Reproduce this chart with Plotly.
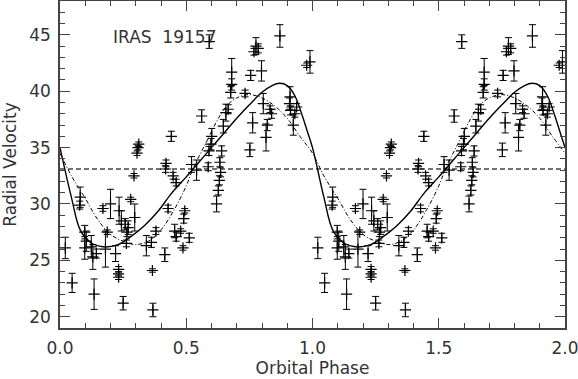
import numpy as np
import plotly.graph_objects as go

# ---- observed radial velocities (one orbital cycle, phase 0..1) ----
obs_phase = [0.021, 0.048, 0.080, 0.078, 0.098, 0.104, 0.098, 0.124, 0.130, 0.144,
             0.135, 0.170, 0.187, 0.180, 0.200, 0.220, 0.232, 0.232, 0.232, 0.234,
             0.243, 0.250, 0.258, 0.270, 0.265, 0.263, 0.280, 0.296, 0.293, 0.305,
             0.309, 0.312, 0.342, 0.362, 0.366, 0.368, 0.380, 0.415, 0.420, 0.418,
             0.428, 0.441, 0.448, 0.454, 0.460, 0.460, 0.478, 0.487, 0.494, 0.490,
             0.512, 0.521, 0.541, 0.561, 0.587, 0.590, 0.591, 0.601, 0.598, 0.633,
             0.636, 0.631, 0.627, 0.620, 0.640, 0.647, 0.657, 0.666, 0.680, 0.680,
             0.676, 0.733, 0.752, 0.755, 0.763, 0.768, 0.776, 0.785, 0.798, 0.805,
             0.816, 0.821, 0.832, 0.838, 0.871, 0.911, 0.909, 0.913, 0.924, 0.930,
             0.937, 0.977, 0.990]
obs_velocity = [26.1, 23.0, 30.6, 29.9, 27.5, 26.7, 26.1, 26.2, 25.3, 25.6,
                22.0, 29.6, 27.5, 26.0, 30.0, 25.6, 24.2, 23.8, 23.5, 29.4,
                28.5, 21.2, 28.2, 27.9, 27.5, 26.5, 30.4, 28.8, 32.5, 34.5,
                35.0, 35.3, 26.3, 26.6, 24.1, 20.6, 27.6, 25.5, 33.6, 33.1,
                29.6, 36.0, 32.5, 27.6, 27.1, 31.9, 27.6, 26.1, 29.4, 28.7,
                27.0, 33.5, 33.0, 37.8, 33.3, 34.7, 44.4, 36.0, 35.3, 33.7,
                32.8, 32.1, 31.2, 30.0, 34.7, 36.9, 38.1, 38.4, 41.7, 40.6,
                39.9, 39.8, 34.8, 41.4, 37.2, 43.5, 44.0, 43.8, 41.8, 38.9,
                35.9, 37.0, 38.4, 38.0, 44.9, 39.5, 38.9, 38.3, 37.0, 38.0,
                38.6, 42.3, 42.6]
obs_error = [0.95, 0.85, 0.9, 0.35, 0.6, 0.9, 1.0, 1.0, 1.1, 0.4,
             1.35, 0.25, 0.2, 1.6, 1.3, 0.7, 0.25, 0.2, 0.2, 1.2,
             0.9, 0.6, 0.5, 0.6, 0.4, 0.3, 0.2, 1.2, 0.2, 0.2,
             0.2, 0.2, 0.9, 0.45, 0.15, 0.6, 0.3, 0.6, 0.3, 0.3,
             0.3, 0.45, 0.3, 0.6, 0.4, 0.3, 0.2, 0.2, 0.2, 0.4,
             0.4, 0.7, 0.9, 0.55, 0.35, 0.4, 0.6, 0.7, 0.5, 0.4,
             0.4, 0.4, 0.4, 0.7, 0.45, 0.6, 0.75, 0.4, 1.2, 0.5,
             0.5, 0.3, 0.6, 0.45, 0.9, 0.3, 0.75, 0.4, 0.9, 0.9,
             1.2, 0.5, 0.3, 0.4, 1.0, 0.9, 0.5, 0.4, 0.9, 0.3,
             0.3, 0.2, 1.0]

# ---- orbit models (one cycle) ----
model1_phase = [0.0, 0.045, 0.08, 0.12, 0.17, 0.23, 0.28, 0.335, 0.39, 0.44,
                0.5, 0.55, 0.6, 0.65, 0.7, 0.75, 0.8, 0.84, 0.87, 0.9,
                0.93, 0.96, 0.98, 1.0]
model1_velocity = [35.0, 30.6, 27.7, 26.6, 26.2, 26.4, 27.1, 28.1, 29.4, 30.9,
                   32.4, 33.7, 35.0, 36.3, 37.6, 38.8, 39.9, 40.5, 40.7, 40.5,
                   39.6, 37.8, 36.4, 35.0]
model2_phase = [0.0, 0.045, 0.08, 0.1, 0.15, 0.2, 0.25, 0.3, 0.35, 0.4,
                0.45, 0.5, 0.53, 0.58, 0.62, 0.66, 0.7, 0.75, 0.8, 0.85,
                0.9, 0.95, 1.0]
model2_velocity = [34.5, 32.5, 31.2, 30.5, 28.6, 27.3, 26.7, 26.4, 26.7, 27.7,
                   29.4, 31.6, 33.3, 35.5, 37.3, 38.7, 39.4, 39.7, 39.4, 38.7,
                   37.6, 36.0, 34.5]
gamma_velocity = 33.1
phase_range = [0.0, 2.0]
velocity_range = [19, 48]
x_ticks = [0.0, 0.5, 1.0, 1.5, 2.0]
y_ticks = [20, 25, 30, 35, 40, 45]
star_name = "IRAS\u00a0\u00a019157"

# two cycles are shown
ph = np.array(obs_phase)
x_obs = np.concatenate([ph, ph + 1])
y_obs = np.concatenate([obs_velocity, obs_velocity])
e_obs = np.concatenate([obs_error, obs_error])

m1p = np.array(model1_phase)
x_m1 = np.concatenate([m1p, m1p[1:] + 1])
y_m1 = np.concatenate([model1_velocity, model1_velocity[1:]])
m2p = np.array(model2_phase)
x_m2 = np.concatenate([m2p, m2p[1:] + 1])
y_m2 = np.concatenate([model2_velocity, model2_velocity[1:]])

FONT = "DejaVu Sans"
INK = "#333333"

fig = go.Figure()
fig.add_trace(go.Scatter(
    x=phase_range, y=[gamma_velocity, gamma_velocity], mode="lines",
    line=dict(color="#444444", width=1.3, dash="5px,3px"), hoverinfo="skip"))
fig.add_trace(go.Scatter(
    x=x_m2, y=y_m2, mode="lines", line_shape="spline",
    line=dict(color="black", width=1, dash="4px,2px,1px,2px")))
fig.add_trace(go.Scatter(
    x=x_m1, y=y_m1, mode="lines", line_shape="spline",
    line=dict(color="black", width=1.4)))
fig.add_trace(go.Scatter(
    x=x_obs, y=y_obs, mode="markers",
    marker=dict(symbol="cross-thin", size=8, color="black",
                line=dict(color="black", width=1.2)),
    error_y=dict(type="data", array=e_obs, visible=True,
                 color="black", thickness=1, width=3.5)))

fig.add_annotation(x=0.2, y=44.85, xref="x", yref="y", text=star_name,
                   showarrow=False, xanchor="left", yanchor="middle",
                   font=dict(family=FONT, size=17, color=INK))

axis_common = dict(showline=True, linecolor="#444444", linewidth=1.5,
                   mirror="allticks", ticks="inside", ticklen=10,
                   tickcolor="#444444", tickwidth=1.3, showgrid=False,
                   zeroline=False, automargin=False,
                   ticklabeloverflow="allow",
                   tickfont=dict(family=FONT, size=17, color=INK))

fig.update_layout(
    width=578, height=379,
    margin=dict(l=60, r=13, t=1, b=51),
    paper_bgcolor="white", plot_bgcolor="white",
    showlegend=False,
    xaxis=dict(range=phase_range, tickvals=x_ticks, tickformat=".1f",
               minor=dict(ticks="inside", ticklen=5, dtick=0.1,
                          tickcolor="#444444", tickwidth=1.3),
               ticklabelstandoff=4,
               title=dict(text="Orbital Phase", standoff=4,
                          font=dict(family=FONT, size=17, color=INK)),
               **axis_common),
    yaxis=dict(range=velocity_range, tickvals=y_ticks,
               minor=dict(ticks="inside", ticklen=5, dtick=1,
                          tickcolor="#444444", tickwidth=1.3),
               ticklabelstandoff=4,
               title=dict(text="Radial Velocity", standoff=8,
                          font=dict(family=FONT, size=17, color=INK)),
               **axis_common),
)

fig.write_html("out.html", config={"displayModeBar": False},
               post_script="document.body.style.margin='0';document.body.style.overflow='hidden';")
